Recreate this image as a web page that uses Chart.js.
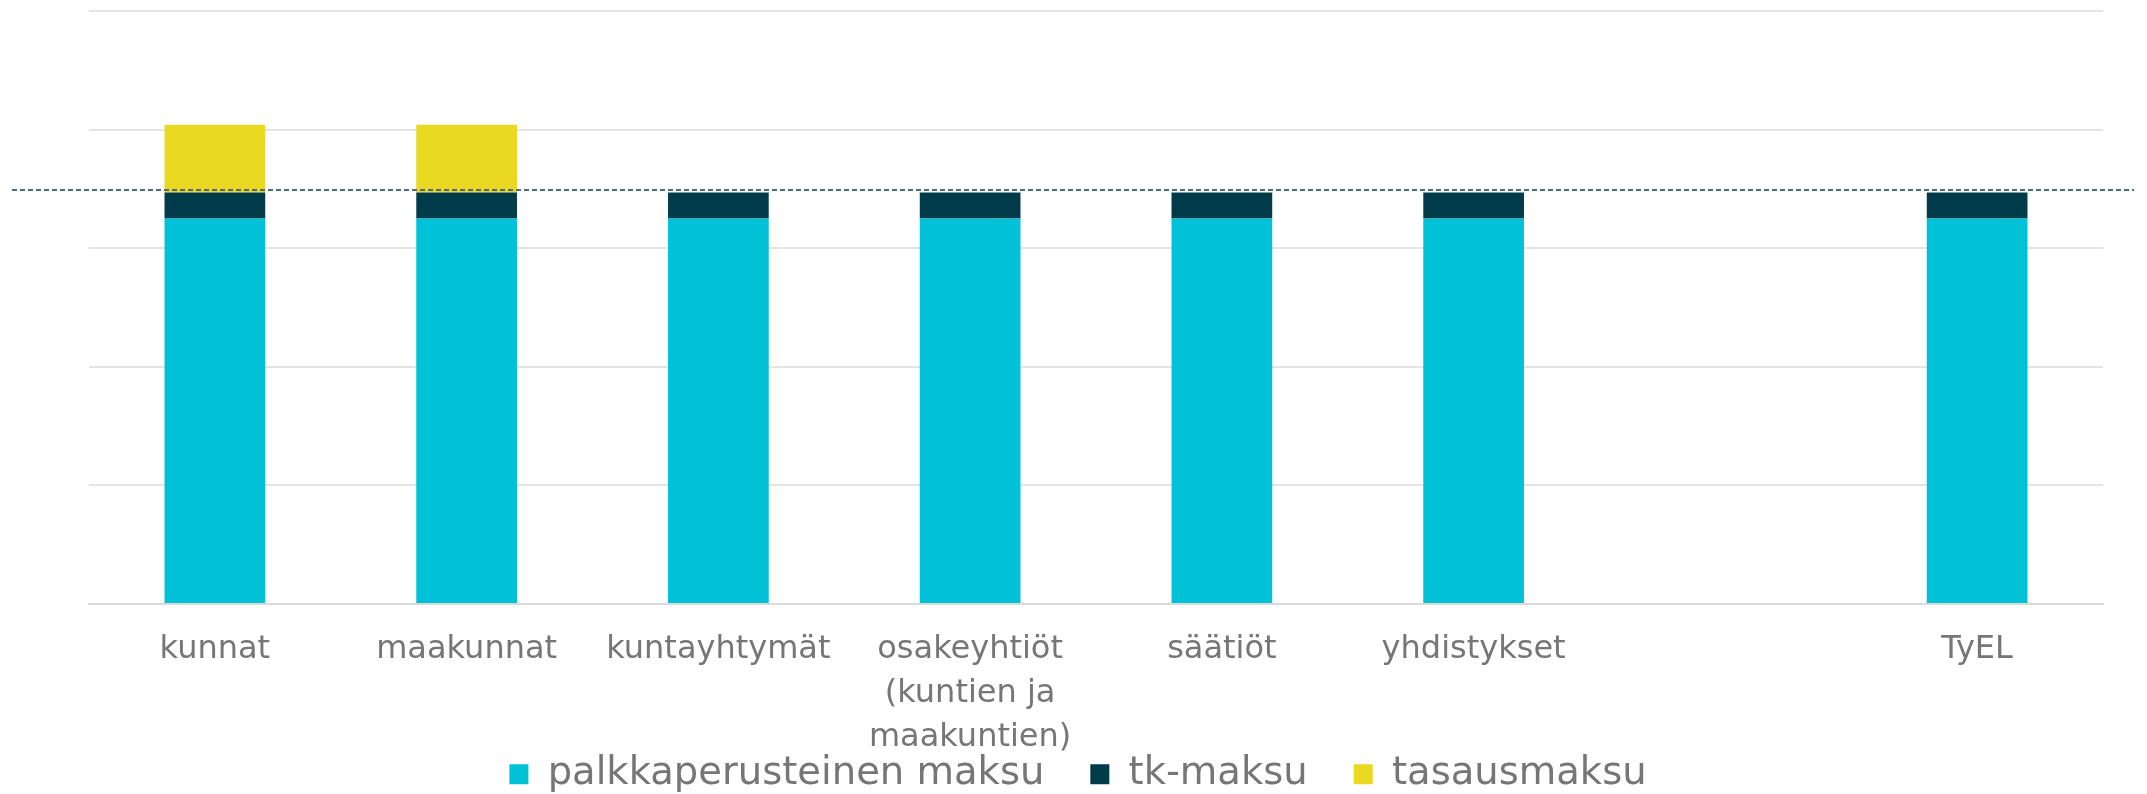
<!DOCTYPE html>
<html>
<head>
<meta charset="utf-8">
<script src="https://cdn.jsdelivr.net/npm/chart.js@4"></script>
<style>
  html, body { margin: 0; padding: 0; background: #fff; }
  #wrap { width: 2147px; height: 794px; }
</style>
</head>
<body>
<div id="wrap"><canvas id="maksuChart" width="2147" height="794"></canvas></div>
<script>
// data (y axis unlabeled, values in %)
const categories = ['kunnat', 'maakunnat', 'kuntayhtymät', ['osakeyhtiöt', '(kuntien ja', 'maakuntien)'], 'säätiöt', 'yhdistykset', '', 'TyEL'];
const palkkaMaksu = [16.25, 16.25, 16.25, 16.25, 16.25, 16.25, null, 16.25];
const tkMaksu     = [1.1, 1.1, 1.1, 1.1, 1.1, 1.1, null, 1.1];
const tasausMaksu = [2.85, 2.85, null, null, null, null, null, null];
const refLine = 17.45;
const yTicks = { min: 0, max: 25, step: 5 };

// dashed reference line across the whole width
const refLinePlugin = {
    id: 'refLine',
    afterLayout(chart) {
        // let the 3-line tick label run under the legend without being clipped
        chart.scales.x.bottom = chart.height;
    },
    afterDatasetsDraw(chart) {
        const ctx = chart.ctx;
        const y = chart.scales.y.getPixelForValue(refLine);
        ctx.save();
        ctx.strokeStyle = '#566a74';
        ctx.lineWidth = 2;
        ctx.setLineDash([5, 3]);
        ctx.beginPath();
        ctx.moveTo(12, y);
        ctx.lineTo(2134, y);
        ctx.stroke();
        ctx.restore();
    }
};

new Chart(document.getElementById('maksuChart'), {
    type: 'bar',
    data: {
        labels: categories,
        datasets: [
            { label: 'palkkaperusteinen maksu', data: palkkaMaksu, backgroundColor: '#00c1d5' },
            { label: 'tk-maksu', data: tkMaksu, backgroundColor: '#003b4a' },
            { label: 'tasausmaksu', data: tasausMaksu, backgroundColor: '#e9d921' }
        ]
    },
    options: {
        responsive: false,
        animation: false,
        categoryPercentage: 0.8,
        barPercentage: 0.5,
        layout: { padding: { left: 53, right: 44, top: 11, bottom: 0 } },
        plugins: {
            tooltip: { enabled: false },
            legend: {
                position: 'bottom',
                maxHeight: 85,
                labels: {
                    boxWidth: 19,
                    boxHeight: 20,
                    padding: 46,
                    color: '#767676',
                    font: { family: 'DejaVu Sans', size: 38.5 }
                }
            }
        },
        scales: {
            x: {
                stacked: true,
                grid: { display: false, drawTicks: false },
                border: { display: true, color: '#d9d9d9', width: 2 },
                ticks: {
                    color: '#767676',
                    padding: 24,
                    maxRotation: 0,
                    autoSkip: false,
                    font: { family: 'DejaVu Sans', size: 32, lineHeight: 1.375 }
                },
                afterFit(axis) { axis.height = 105; }
            },
            y: {
                stacked: true,
                min: yTicks.min,
                max: yTicks.max,
                ticks: { display: false, stepSize: yTicks.step },
                grid: { color: '#e4e4e4', lineWidth: 2, drawTicks: false },
                border: { display: false },
                afterFit(axis) { axis.width = 36; }
            }
        }
    },
    plugins: [refLinePlugin]
});
</script>
</body>
</html>
